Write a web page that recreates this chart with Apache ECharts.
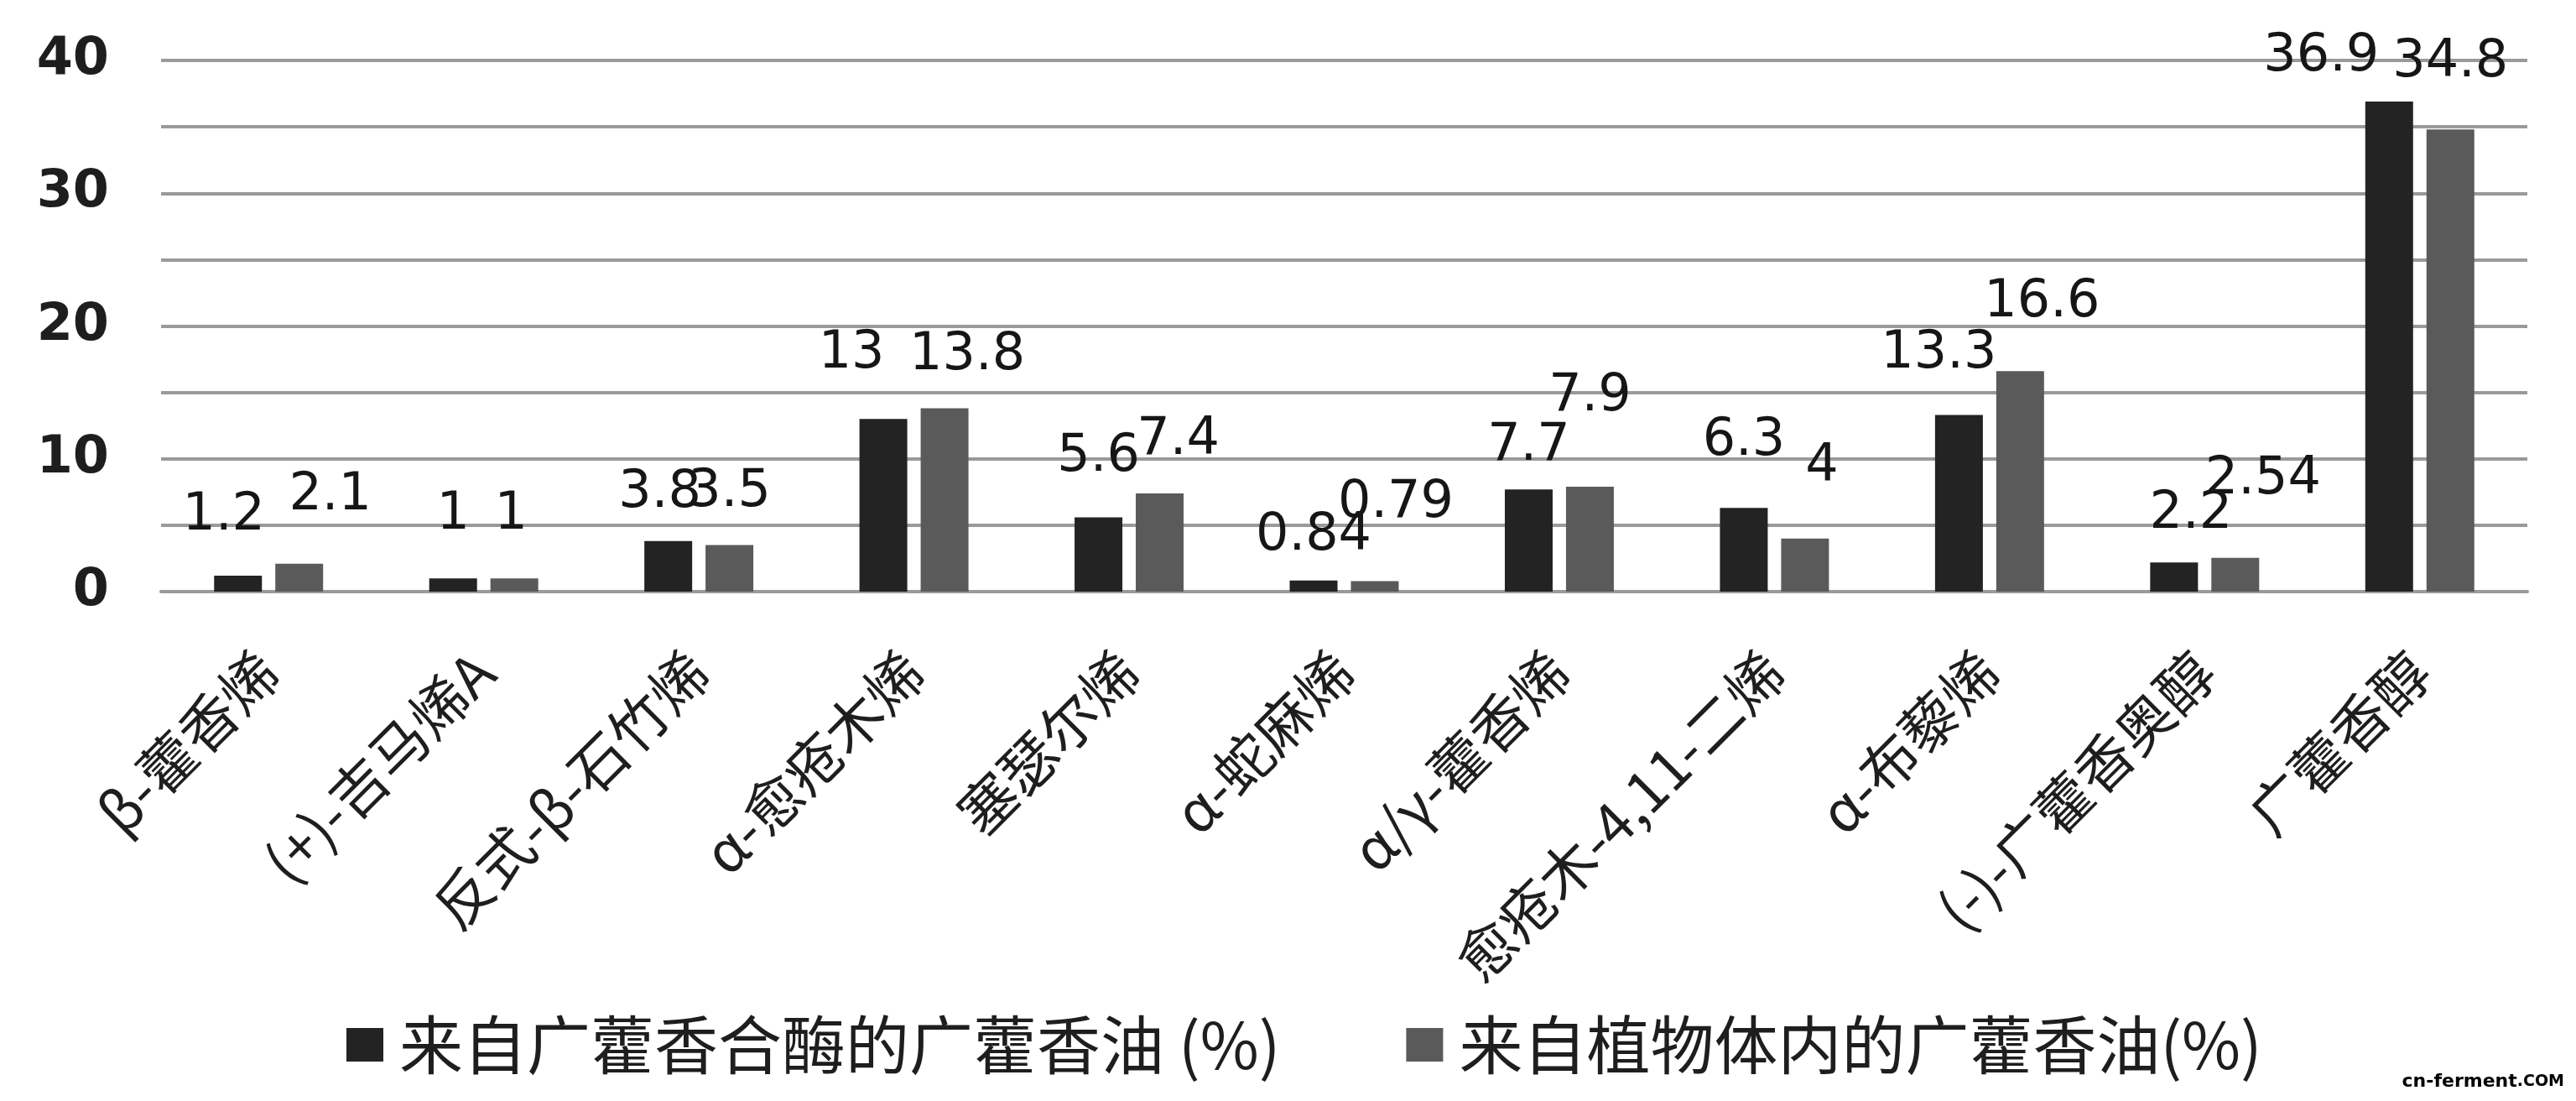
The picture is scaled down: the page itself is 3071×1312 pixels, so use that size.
<!DOCTYPE html>
<html>
<head>
<meta charset="utf-8">
<script src="https://cdn.jsdelivr.net/npm/echarts@6/dist/echarts.min.js"></script>
<style>
html,body{margin:0;padding:0;background:#fff;}
#main{width:3071px;height:1312px;}
</style>
</head>
<body>
<div id="main"></div>
<script>
var categories = ['β-藿香烯', '(+)-吉马烯A', '反式-β-石竹烯', 'α-愈疮木烯', '塞瑟尔烯', 'α-蛇麻烯',
    'α/γ-藿香烯', '愈疮木-4,11-二烯', 'α-布藜烯', '(-)-广藿香奥醇', '广藿香醇'];
var seriesNames = ['来自广藿香合酶的广藿香油 (%)', '来自植物体内的广藿香油(%)'];
var synthaseOil = [1.2, 1, 3.8, 13, 5.6, 0.84, 7.7, 6.3, 13.3, 2.2, 36.9];
var plantOil = [2.1, 1, 3.5, 13.8, 7.4, 0.79, 7.9, 4, 16.6, 2.54, 34.8];

// excel-style label placement: [x shift, gap above bar]
var synthaseLabelNudge = [[-17, 40], [0, 44], [-10, 26], [-38, 46], [0, 40], [0, 22],
    [0, 20], [0, 48], [-24, 42], [20, 26], [-81, 22]];
var plantLabelNudge = [[37, 50], [-4, 44], [0, 32], [27, 32], [22, 32], [25, 62],
    [0, 76], [20, 54], [26, 50], [33, 62], [0, 48]];

function withLabels(values, nudges) {
    return values.map(function (v, i) {
        return {value: v, label: {offset: [nudges[i][0], 0], distance: nudges[i][1]}};
    });
}

var chart = echarts.init(document.getElementById('main'));

var labelStyle = {
    show: true,
    position: 'top',
    fontFamily: 'DejaVu Sans',
    fontSize: 62,
    color: '#161616'
};

var option = {
    backgroundColor: '#fff',
    animation: false,
    grid: {left: 192, right: 58, top: 72, bottom: 607},
    legend: {
        top: 1196,
        left: 408,
        itemWidth: 44,
        itemHeight: 40,
        itemGap: 150,
        icon: 'rect',
        textStyle: {
            fontFamily: 'Noto Sans CJK SC',
            fontSize: 76,
            lineHeight: 88,
            color: '#1e1e1e',
            padding: [0, 0, 0, 14]
        },
        data: seriesNames
    },
    xAxis: {
        type: 'category',
        data: categories,
        axisLine: {lineStyle: {color: '#9a9a9a', width: 4}},
        axisTick: {show: false},
        axisLabel: {
            interval: 0,
            rotate: 45,
            margin: 84,
            fontFamily: 'Noto Sans CJK SC',
            fontSize: 68,
            color: '#1e1e1e'
        }
    },
    yAxis: {
        type: 'value',
        min: 0,
        max: 40,
        interval: 5,
        axisLine: {show: false},
        axisTick: {show: false},
        axisLabel: {
            margin: 62,
            fontFamily: 'DejaVu Sans',
            fontWeight: 'bold',
            fontSize: 62,
            color: '#1e1e1e',
            formatter: function (v) { return v % 10 === 0 ? v : ''; }
        },
        splitLine: {lineStyle: {color: '#9a9a9a', width: 4}}
    },
    graphic: [{
        type: 'text',
        right: 14,
        bottom: 12,
        style: {
            text: '{a|cn-ferment}{b|.COM}',
            rich: {
                a: {fontFamily: 'DejaVu Sans', fontWeight: 'bold', fontSize: 22, color: '#f5893e'},
                b: {fontFamily: 'DejaVu Sans', fontWeight: 'bold', fontSize: 19, color: '#666'}
            }
        }
    }],
    series: [
        {
            name: seriesNames[0],
            type: 'bar',
            data: withLabels(synthaseOil, synthaseLabelNudge),
            barWidth: 57,
            barGap: '28%',
            itemStyle: {color: '#232323'},
            label: labelStyle
        },
        {
            name: seriesNames[1],
            type: 'bar',
            data: withLabels(plantOil, plantLabelNudge),
            barWidth: 57,
            barGap: '28%',
            itemStyle: {color: '#5a5a5a'},
            label: labelStyle
        }
    ]
};
chart.setOption(option);
</script>
</body>
</html>
